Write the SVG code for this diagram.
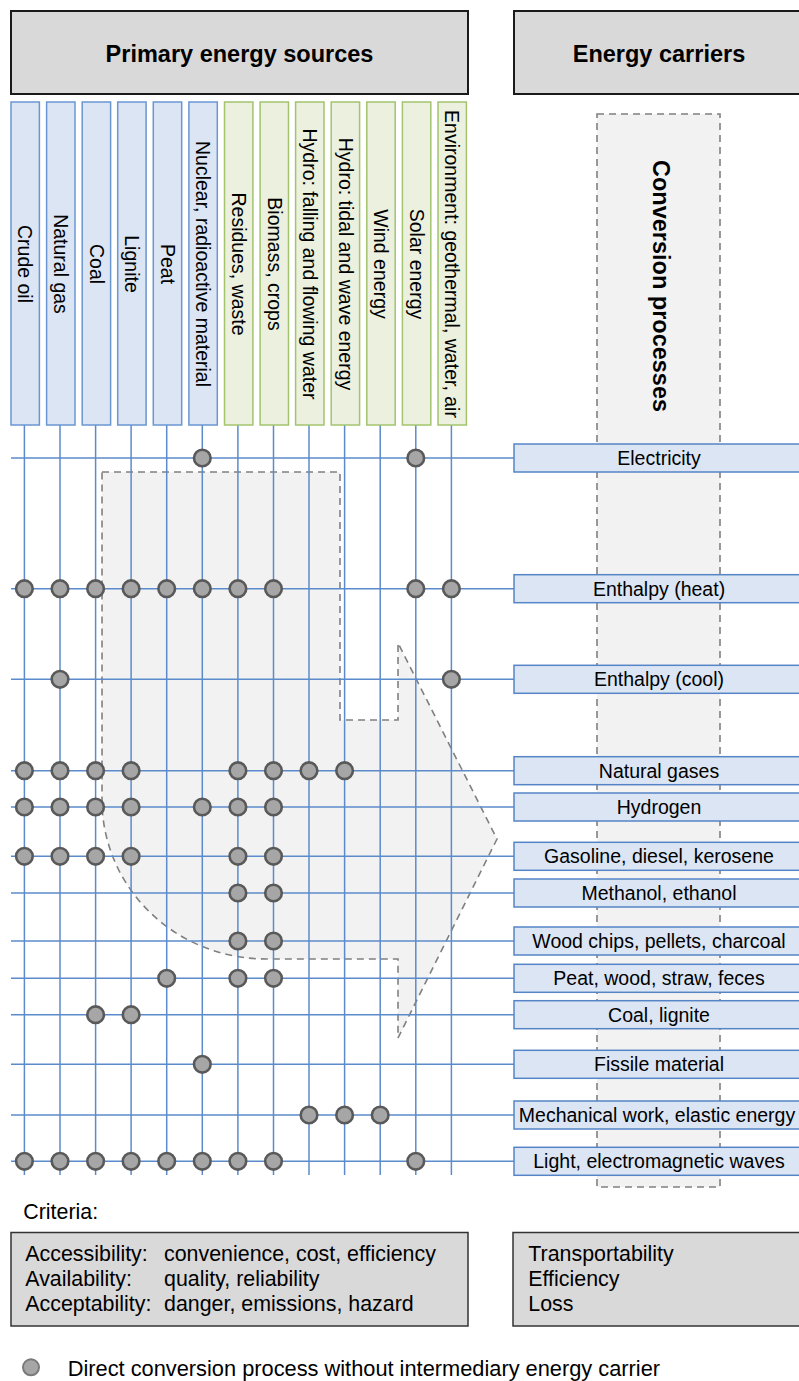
<svg xmlns="http://www.w3.org/2000/svg" xmlns:xlink="http://www.w3.org/1999/xlink" width="799" height="1381" viewBox="0 0 799 1381">
  <style>
    text { font-family: "Liberation Sans", Arial, sans-serif; fill: #000; }
    .hdr { fill: #d9d9d9; stroke: #1a1a1a; stroke-width: 2; }
    .hdr-t { font-size: 23.5px; font-weight: bold; text-anchor: middle; }
    .src-f { fill: #dbe5f4; stroke: #6a96d2; stroke-width: 1.5; }
    .src-r { fill: #ebf1de; stroke: #a3c46d; stroke-width: 1.5; }
    .src-t { font-size: 19.5px; text-anchor: middle; }
    .car { fill: #dbe5f4; stroke: #5585c6; stroke-width: 1.5; }
    .car-t { font-size: 19.5px; text-anchor: middle; }
    .grid line { stroke: #5b8bcb; stroke-width: 1.5; }
    .dash { fill: #f2f2f2; stroke: #808080; stroke-width: 1.6; stroke-dasharray: 7 5; }
    .dot { fill: #a6a6a6; stroke: #595959; stroke-width: 2.6; }
    .crit { fill: #d9d9d9; stroke: #333; stroke-width: 1.5; }
    .crit-t { font-size: 21.4px; }
  </style>
  <defs>
    <circle id="d" r="8.3" class="dot"/>
  </defs>

  <!-- conversion process band and the arrow-shaped process area -->
  <g id="conversion-processes">
    <rect class="dash" x="597" y="114" width="123" height="1073"/>
    <text transform="translate(652.5,286) rotate(90)" class="hdr-t">Conversion processes</text>
  </g>
  <g id="process-area">
    <path class="dash" d="M102,472 H340 V720 H398 V643 L497,839 L398,1038 V959 H266 A164,159 0 0 1 102,800 Z"/>
  </g>

  <!-- headers -->
  <g id="primary-header">
    <rect class="hdr" x="11" y="11" width="457" height="83"/>
    <text class="hdr-t" x="239.5" y="62">Primary energy sources</text>
  </g>
  <g id="carriers-header">
    <rect class="hdr" x="514" y="11" width="300" height="83"/>
    <text class="hdr-t" x="659" y="62">Energy carriers</text>
  </g>

  <!-- connectors: source columns and carrier rows -->
  <g id="connectors" class="grid">
    <line x1="24.4" y1="425" x2="24.4" y2="1175"/>
    <line x1="60.0" y1="425" x2="60.0" y2="1175"/>
    <line x1="95.6" y1="425" x2="95.6" y2="1175"/>
    <line x1="131.1" y1="425" x2="131.1" y2="1175"/>
    <line x1="166.7" y1="425" x2="166.7" y2="1175"/>
    <line x1="202.3" y1="425" x2="202.3" y2="1175"/>
    <line x1="237.9" y1="425" x2="237.9" y2="1175"/>
    <line x1="273.5" y1="425" x2="273.5" y2="1175"/>
    <line x1="309.0" y1="425" x2="309.0" y2="1175"/>
    <line x1="344.6" y1="425" x2="344.6" y2="1175"/>
    <line x1="380.2" y1="425" x2="380.2" y2="1175"/>
    <line x1="415.8" y1="425" x2="415.8" y2="1175"/>
    <line x1="451.4" y1="425" x2="451.4" y2="1175"/>

    <line x1="11" y1="458" x2="514" y2="458"/>
    <line x1="11" y1="588.7" x2="514" y2="588.7"/>
    <line x1="11" y1="679.3" x2="514" y2="679.3"/>
    <line x1="11" y1="770.7" x2="514" y2="770.7"/>
    <line x1="11" y1="807" x2="514" y2="807"/>
    <line x1="11" y1="856.3" x2="514" y2="856.3"/>
    <line x1="11" y1="893" x2="514" y2="893"/>
    <line x1="11" y1="941" x2="514" y2="941"/>
    <line x1="11" y1="978.3" x2="514" y2="978.3"/>
    <line x1="11" y1="1014.7" x2="514" y2="1014.7"/>
    <line x1="11" y1="1064.3" x2="514" y2="1064.3"/>
    <line x1="11" y1="1115" x2="514" y2="1115"/>
    <line x1="11" y1="1161.3" x2="514" y2="1161.3"/>
  </g>

  <!-- primary energy sources: fossil / nuclear -->
  <g id="src-crude-oil"><rect class="src-f" x="11" y="102" width="28.4" height="323"/><text class="src-t" transform="translate(18.4,264) rotate(90)">Crude oil</text></g>
  <g id="src-natural-gas"><rect class="src-f" x="46.6" y="102" width="28.4" height="323"/><text class="src-t" transform="translate(54.0,264) rotate(90)">Natural gas</text></g>
  <g id="src-coal"><rect class="src-f" x="82.2" y="102" width="28.4" height="323"/><text class="src-t" transform="translate(89.6,264) rotate(90)">Coal</text></g>
  <g id="src-lignite"><rect class="src-f" x="117.7" y="102" width="28.4" height="323"/><text class="src-t" transform="translate(125.1,264) rotate(90)">Lignite</text></g>
  <g id="src-peat"><rect class="src-f" x="153.3" y="102" width="28.4" height="323"/><text class="src-t" transform="translate(160.7,264) rotate(90)">Peat</text></g>
  <g id="src-nuclear"><rect class="src-f" x="188.9" y="102" width="28.4" height="323"/><text class="src-t" transform="translate(196.3,264) rotate(90)">Nuclear, radioactive material</text></g>
  <!-- renewable sources -->
  <g id="src-residues"><rect class="src-r" x="224.5" y="102" width="28.4" height="323"/><text class="src-t" transform="translate(231.9,264) rotate(90)">Residues, waste</text></g>
  <g id="src-biomass"><rect class="src-r" x="260.1" y="102" width="28.4" height="323"/><text class="src-t" transform="translate(267.5,264) rotate(90)">Biomass, crops</text></g>
  <g id="src-hydro-falling"><rect class="src-r" x="295.6" y="102" width="28.4" height="323"/><text class="src-t" transform="translate(303.0,264) rotate(90)">Hydro: falling and flowing water</text></g>
  <g id="src-hydro-tidal"><rect class="src-r" x="331.2" y="102" width="28.4" height="323"/><text class="src-t" transform="translate(338.6,264) rotate(90)">Hydro: tidal and wave energy</text></g>
  <g id="src-wind"><rect class="src-r" x="366.8" y="102" width="28.4" height="323"/><text class="src-t" transform="translate(374.2,264) rotate(90)">Wind energy</text></g>
  <g id="src-solar"><rect class="src-r" x="402.4" y="102" width="28.4" height="323"/><text class="src-t" transform="translate(409.8,264) rotate(90)">Solar energy</text></g>
  <g id="src-environment"><rect class="src-r" x="438" y="102" width="28.4" height="323"/><text class="src-t" transform="translate(445.4,264) rotate(90)">Environment: geothermal, water, air</text></g>

  <!-- energy carriers -->
  <g id="car-electricity"><rect class="car" x="514" y="444" width="300" height="28"/><text class="car-t" x="659" y="464.8">Electricity</text></g>
  <g id="car-heat"><rect class="car" x="514" y="574.7" width="300" height="28"/><text class="car-t" x="659" y="595.5">Enthalpy (heat)</text></g>
  <g id="car-cool"><rect class="car" x="514" y="665.3" width="300" height="28"/><text class="car-t" x="659" y="686.1">Enthalpy (cool)</text></g>
  <g id="car-natural-gases"><rect class="car" x="514" y="756.7" width="300" height="28"/><text class="car-t" x="659" y="777.5">Natural gases</text></g>
  <g id="car-hydrogen"><rect class="car" x="514" y="793" width="300" height="28"/><text class="car-t" x="659" y="813.8">Hydrogen</text></g>
  <g id="car-gasoline"><rect class="car" x="514" y="842.3" width="300" height="28"/><text class="car-t" x="659" y="863.1">Gasoline, diesel, kerosene</text></g>
  <g id="car-methanol"><rect class="car" x="514" y="879" width="300" height="28"/><text class="car-t" x="659" y="899.8">Methanol, ethanol</text></g>
  <g id="car-wood-chips"><rect class="car" x="514" y="927" width="300" height="28"/><text class="car-t" x="659" y="947.8">Wood chips, pellets, charcoal</text></g>
  <g id="car-peat-wood"><rect class="car" x="514" y="964.3" width="300" height="28"/><text class="car-t" x="659" y="985.1">Peat, wood, straw, feces</text></g>
  <g id="car-coal-lignite"><rect class="car" x="514" y="1000.7" width="300" height="28"/><text class="car-t" x="659" y="1021.5">Coal, lignite</text></g>
  <g id="car-fissile"><rect class="car" x="514" y="1050.3" width="300" height="28"/><text class="car-t" x="659" y="1071.1">Fissile material</text></g>
  <g id="car-mechanical"><rect class="car" x="514" y="1101" width="300" height="28"/><text class="car-t" x="657" y="1121.8">Mechanical work, elastic energy</text></g>
  <g id="car-light"><rect class="car" x="514" y="1147.3" width="300" height="28"/><text class="car-t" x="659" y="1168.1">Light, electromagnetic waves</text></g>

  <!-- direct conversion points -->
  <g id="direct-conversions">
    <!-- Electricity -->
    <use xlink:href="#d" x="202.3" y="458"/><use xlink:href="#d" x="415.8" y="458"/>
    <!-- Enthalpy (heat) -->
    <use xlink:href="#d" x="24.4" y="588.7"/><use xlink:href="#d" x="60.0" y="588.7"/><use xlink:href="#d" x="95.6" y="588.7"/><use xlink:href="#d" x="131.1" y="588.7"/>
    <use xlink:href="#d" x="166.7" y="588.7"/><use xlink:href="#d" x="202.3" y="588.7"/><use xlink:href="#d" x="237.9" y="588.7"/><use xlink:href="#d" x="273.5" y="588.7"/>
    <use xlink:href="#d" x="415.8" y="588.7"/><use xlink:href="#d" x="451.4" y="588.7"/>
    <!-- Enthalpy (cool) -->
    <use xlink:href="#d" x="60.0" y="679.3"/><use xlink:href="#d" x="451.4" y="679.3"/>
    <!-- Natural gases -->
    <use xlink:href="#d" x="24.4" y="770.7"/><use xlink:href="#d" x="60.0" y="770.7"/><use xlink:href="#d" x="95.6" y="770.7"/><use xlink:href="#d" x="131.1" y="770.7"/>
    <use xlink:href="#d" x="237.9" y="770.7"/><use xlink:href="#d" x="273.5" y="770.7"/><use xlink:href="#d" x="309.0" y="770.7"/><use xlink:href="#d" x="344.6" y="770.7"/>
    <!-- Hydrogen -->
    <use xlink:href="#d" x="24.4" y="807"/><use xlink:href="#d" x="60.0" y="807"/><use xlink:href="#d" x="95.6" y="807"/><use xlink:href="#d" x="131.1" y="807"/>
    <use xlink:href="#d" x="202.3" y="807"/><use xlink:href="#d" x="237.9" y="807"/><use xlink:href="#d" x="273.5" y="807"/>
    <!-- Gasoline, diesel, kerosene -->
    <use xlink:href="#d" x="24.4" y="856.3"/><use xlink:href="#d" x="60.0" y="856.3"/><use xlink:href="#d" x="95.6" y="856.3"/><use xlink:href="#d" x="131.1" y="856.3"/>
    <use xlink:href="#d" x="237.9" y="856.3"/><use xlink:href="#d" x="273.5" y="856.3"/>
    <!-- Methanol, ethanol -->
    <use xlink:href="#d" x="237.9" y="893"/><use xlink:href="#d" x="273.5" y="893"/>
    <!-- Wood chips, pellets, charcoal -->
    <use xlink:href="#d" x="237.9" y="941"/><use xlink:href="#d" x="273.5" y="941"/>
    <!-- Peat, wood, straw, feces -->
    <use xlink:href="#d" x="166.7" y="978.3"/><use xlink:href="#d" x="237.9" y="978.3"/><use xlink:href="#d" x="273.5" y="978.3"/>
    <!-- Coal, lignite -->
    <use xlink:href="#d" x="95.6" y="1014.7"/><use xlink:href="#d" x="131.1" y="1014.7"/>
    <!-- Fissile material -->
    <use xlink:href="#d" x="202.3" y="1064.3"/>
    <!-- Mechanical work -->
    <use xlink:href="#d" x="309.0" y="1115"/><use xlink:href="#d" x="344.6" y="1115"/><use xlink:href="#d" x="380.2" y="1115"/>
    <!-- Light, electromagnetic waves -->
    <use xlink:href="#d" x="24.4" y="1161.3"/><use xlink:href="#d" x="60.0" y="1161.3"/><use xlink:href="#d" x="95.6" y="1161.3"/><use xlink:href="#d" x="131.1" y="1161.3"/>
    <use xlink:href="#d" x="166.7" y="1161.3"/><use xlink:href="#d" x="202.3" y="1161.3"/><use xlink:href="#d" x="237.9" y="1161.3"/><use xlink:href="#d" x="273.5" y="1161.3"/>
    <use xlink:href="#d" x="415.8" y="1161.3"/>
  </g>

  <!-- criteria -->
  <text class="crit-t" x="23.3" y="1219.3">Criteria:</text>
  <g id="criteria-sources">
    <rect class="crit" x="11" y="1232.5" width="457" height="93.5"/>
    <text class="crit-t" x="25.3" y="1260.7">Accessibility:</text>
    <text class="crit-t" x="164" y="1260.7">convenience, cost, efficiency</text>
    <text class="crit-t" x="25.3" y="1286">Availability:</text>
    <text class="crit-t" x="164" y="1286">quality, reliability</text>
    <text class="crit-t" x="25.3" y="1311.3">Acceptability:</text>
    <text class="crit-t" x="164" y="1311.3">danger, emissions, hazard</text>
  </g>
  <g id="criteria-carriers">
    <rect class="crit" x="513" y="1232.5" width="300" height="93.5"/>
    <text class="crit-t" x="528.3" y="1260.7">Transportability</text>
    <text class="crit-t" x="528.3" y="1286">Efficiency</text>
    <text class="crit-t" x="528.3" y="1311.3">Loss</text>
  </g>

  <!-- legend -->
  <g id="legend">
    <circle cx="31" cy="1367.3" r="8" fill="#a6a6a6" stroke="#7a7a7a" stroke-width="2"/>
    <text x="67.7" y="1375.7" style="font-size:21.8px">Direct conversion process without intermediary energy carrier</text>
  </g>
</svg>
